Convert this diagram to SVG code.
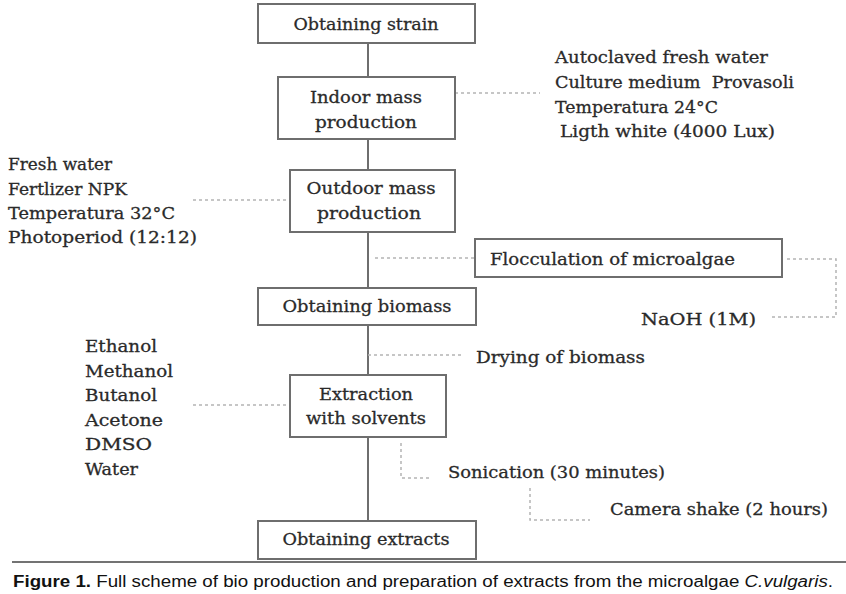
<svg xmlns="http://www.w3.org/2000/svg" width="846" height="594" viewBox="0 0 846 594">
<style>
.box{fill:#fff;stroke:#6e6e6e;stroke-width:2}
.main{stroke:#6e6e6e;stroke-width:2;fill:none}
.dash{stroke:#b4b4b4;stroke-width:1.5;stroke-dasharray:3 3;fill:none}
.t{font-family:"DejaVu Serif","Liberation Serif",serif;font-size:17px;fill:#2a2a2a;stroke:#2a2a2a;stroke-width:0.3;white-space:pre}
.c{text-anchor:middle}
.cap{font-family:"Liberation Sans",Arial,sans-serif;font-size:16px;fill:#111}
</style>
<rect width="846" height="594" fill="#fff"/>
<g id="connectors">
<line class="main" x1="368" y1="43" x2="368" y2="77"/>
<line class="main" x1="368" y1="139" x2="368" y2="170"/>
<line class="main" x1="368" y1="232" x2="368" y2="288"/>
<line class="main" x1="368" y1="325" x2="368" y2="375"/>
<line class="main" x1="368" y1="437" x2="368" y2="521"/>
<line class="dash" x1="455" y1="93" x2="540" y2="93"/>
<line class="dash" x1="193" y1="200" x2="290" y2="200"/>
<line class="dash" x1="375" y1="258" x2="475" y2="258"/>
<path class="dash" d="M787,259 H836 V317 H772"/>
<line class="dash" x1="368" y1="355" x2="463" y2="355"/>
<line class="dash" x1="193" y1="405" x2="290" y2="405"/>
<path class="dash" d="M401,443 V478 H430"/>
<path class="dash" d="M530,488 V520 H590"/>
</g>
<g id="n-strain">
<rect class="box" x="258" y="4" width="217" height="39"/>
<text class="t c" x="366" y="30" textLength="145" lengthAdjust="spacingAndGlyphs">Obtaining strain</text>
</g>
<g id="n-indoor">
<rect class="box" x="278" y="77" width="177" height="62"/>
<text class="t c" x="366" y="103" textLength="112" lengthAdjust="spacingAndGlyphs">Indoor mass</text>
<text class="t c" x="366" y="128" textLength="102" lengthAdjust="spacingAndGlyphs">production</text>
</g>
<g id="n-indoor-cond">
<text class="t" x="555" y="63" textLength="213" lengthAdjust="spacingAndGlyphs">Autoclaved fresh water</text>
<text class="t" x="555" y="88" textLength="239" lengthAdjust="spacingAndGlyphs">Culture medium  Provasoli</text>
<text class="t" x="555" y="113" textLength="163" lengthAdjust="spacingAndGlyphs">Temperatura 24°C</text>
<text class="t" x="560" y="137" textLength="215" lengthAdjust="spacingAndGlyphs">Ligth white (4000 Lux)</text>
</g>
<g id="n-outdoor">
<rect class="box" x="290" y="170" width="165" height="62"/>
<text class="t c" x="371" y="194" textLength="129" lengthAdjust="spacingAndGlyphs">Outdoor mass</text>
<text class="t c" x="369" y="219" textLength="104" lengthAdjust="spacingAndGlyphs">production</text>
</g>
<g id="n-outdoor-cond">
<text class="t" x="8" y="170" textLength="104" lengthAdjust="spacingAndGlyphs">Fresh water</text>
<text class="t" x="8" y="195" textLength="119" lengthAdjust="spacingAndGlyphs">Fertlizer NPK</text>
<text class="t" x="8" y="219" textLength="167" lengthAdjust="spacingAndGlyphs">Temperatura 32°C</text>
<text class="t" x="8" y="243" textLength="189" lengthAdjust="spacingAndGlyphs">Photoperiod (12:12)</text>
</g>
<g id="n-flocculation">
<rect class="box" x="475" y="239" width="307" height="38"/>
<text class="t" x="490" y="265" textLength="245" lengthAdjust="spacingAndGlyphs">Flocculation of microalgae</text>
</g>
<g id="n-naoh">
<text class="t" x="641" y="325" textLength="115" lengthAdjust="spacingAndGlyphs">NaOH (1M)</text>
</g>
<g id="n-biomass">
<rect class="box" x="258" y="288" width="218" height="37"/>
<text class="t c" x="367" y="312" textLength="169" lengthAdjust="spacingAndGlyphs">Obtaining biomass</text>
</g>
<g id="n-drying">
<text class="t" x="476" y="363" textLength="169" lengthAdjust="spacingAndGlyphs">Drying of biomass</text>
</g>
<g id="n-solvents">
<text class="t" x="85" y="352" textLength="72" lengthAdjust="spacingAndGlyphs">Ethanol</text>
<text class="t" x="85" y="377" textLength="88" lengthAdjust="spacingAndGlyphs">Methanol</text>
<text class="t" x="85" y="401" textLength="72" lengthAdjust="spacingAndGlyphs">Butanol</text>
<text class="t" x="85" y="426" textLength="78" lengthAdjust="spacingAndGlyphs">Acetone</text>
<text class="t" x="85" y="450" textLength="67" lengthAdjust="spacingAndGlyphs">DMSO</text>
<text class="t" x="85" y="475" textLength="53" lengthAdjust="spacingAndGlyphs">Water</text>
</g>
<g id="n-extraction">
<rect class="box" x="290" y="375" width="156" height="62"/>
<text class="t c" x="366" y="400" textLength="94" lengthAdjust="spacingAndGlyphs">Extraction</text>
<text class="t c" x="366" y="424" textLength="120" lengthAdjust="spacingAndGlyphs">with solvents</text>
</g>
<g id="n-sonication">
<text class="t" x="448" y="478" textLength="217" lengthAdjust="spacingAndGlyphs">Sonication (30 minutes)</text>
</g>
<g id="n-camera">
<text class="t" x="610" y="515" textLength="218" lengthAdjust="spacingAndGlyphs">Camera shake (2 hours)</text>
</g>
<g id="n-extracts">
<rect class="box" x="258" y="521" width="218" height="38"/>
<text class="t c" x="366" y="545" textLength="167" lengthAdjust="spacingAndGlyphs">Obtaining extracts</text>
</g>
<g id="caption">
<line x1="12" y1="562" x2="846" y2="562" stroke="#444" stroke-width="1.5"/>
<text class="cap" x="13" y="587" textLength="820" lengthAdjust="spacingAndGlyphs"><tspan font-weight="bold">Figure 1.</tspan> Full scheme of bio production and preparation of extracts from the microalgae <tspan font-style="italic">C.vulgaris</tspan>.</text>
</g>
</svg>
